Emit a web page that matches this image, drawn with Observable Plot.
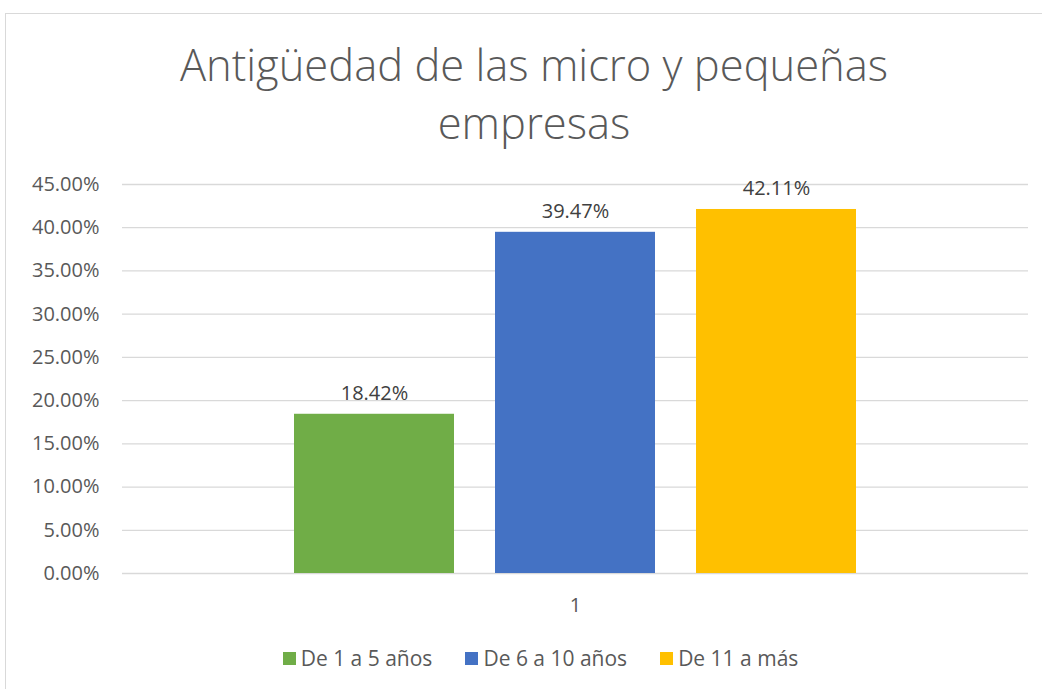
<!DOCTYPE html>
<html>
<head>
<meta charset="utf-8">
<script src="https://cdn.jsdelivr.net/npm/d3@7"></script>
<script src="https://cdn.jsdelivr.net/npm/@observablehq/plot@0.6"></script>
<style>
  html, body { margin: 0; padding: 0; background: #fff; overflow: hidden; }
  body { width: 1042px; height: 689px; position: relative; font-family: "Open Sans", "Liberation Sans", sans-serif; }
  #frame { position: absolute; left: 5px; top: 13px; width: 1060px; height: 700px; border: 1.5px solid #d9d9d9; box-sizing: border-box; }
  #title { position: absolute; left: 0; width: 1068px; top: 36px; text-align: center; font-size: 43.5px; line-height: 58px; color: #595959; font-weight: 300; }
  #chart { position: absolute; left: 0; top: 160px; }
  #legend { position: absolute; left: 0; width: 1081px; top: 644px; display: flex; justify-content: center; gap: 33px; font-size: 21px; line-height: 28px; color: #595959; }
  .item { display: flex; align-items: center; }
  .sw { width: 13px; height: 13px; margin-right: 5px; display: inline-block; }
</style>
</head>
<body>
<div id="frame"></div>
<div id="title">Antigüedad de las micro y pequeñas<br>empresas</div>
<div id="chart"></div>
<div id="legend"></div>
<script>
const categorias = ["De 1 a 5 años", "De 6 a 10 años", "De 11 a más"];
const valores = [0.1842, 0.3947, 0.4211];
const colores = ["#70ad47", "#4472c4", "#ffc000"];
const grupoEtiqueta = "1";
const ticksY = [0, 0.05, 0.10, 0.15, 0.20, 0.25, 0.30, 0.35, 0.40, 0.45];

const datos = categorias.map((c, i) => ({ serie: c, valor: valores[i], grupo: grupoEtiqueta }));
const pct = v => (v * 100).toFixed(2) + "%";

const chart = Plot.plot({
  width: 1042,
  height: 470,
  marginLeft: 122,
  marginRight: 14,
  marginTop: 24,
  marginBottom: 57,
  style: { fontSize: "20px", fontFamily: "'Open Sans', 'Liberation Sans', sans-serif", color: "#595959", background: "transparent" },
  fx: { padding: 0, label: null, axis: "bottom", tickSize: 0, tickPadding: 24 },
  x: { domain: categorias, paddingInner: 0.204, paddingOuter: 0.855, axis: null },
  y: { domain: [0, 0.45], ticks: ticksY, tickFormat: pct, label: null, tickSize: 0, tickPadding: 23 },
  color: { domain: categorias, range: colores },
  marks: [
    Plot.gridY(ticksY, { stroke: "#d9d9d9", strokeOpacity: 1, strokeWidth: 1.3 }),
    Plot.barY(datos, { fx: "grupo", x: "serie", y: "valor", fill: "serie" }),
    Plot.text(datos, { fx: "grupo", x: "serie", y: "valor", text: d => pct(d.valor), lineAnchor: "bottom", dy: -14, fill: "#404040", fontSize: 20 })
  ]
});
document.getElementById("chart").appendChild(chart);

const legend = document.getElementById("legend");
categorias.forEach((c, i) => {
  const it = document.createElement("div");
  it.className = "item";
  const sw = document.createElement("span");
  sw.className = "sw";
  sw.style.background = colores[i];
  it.appendChild(sw);
  it.appendChild(document.createTextNode(c));
  legend.appendChild(it);
});
</script>
</body>
</html>
